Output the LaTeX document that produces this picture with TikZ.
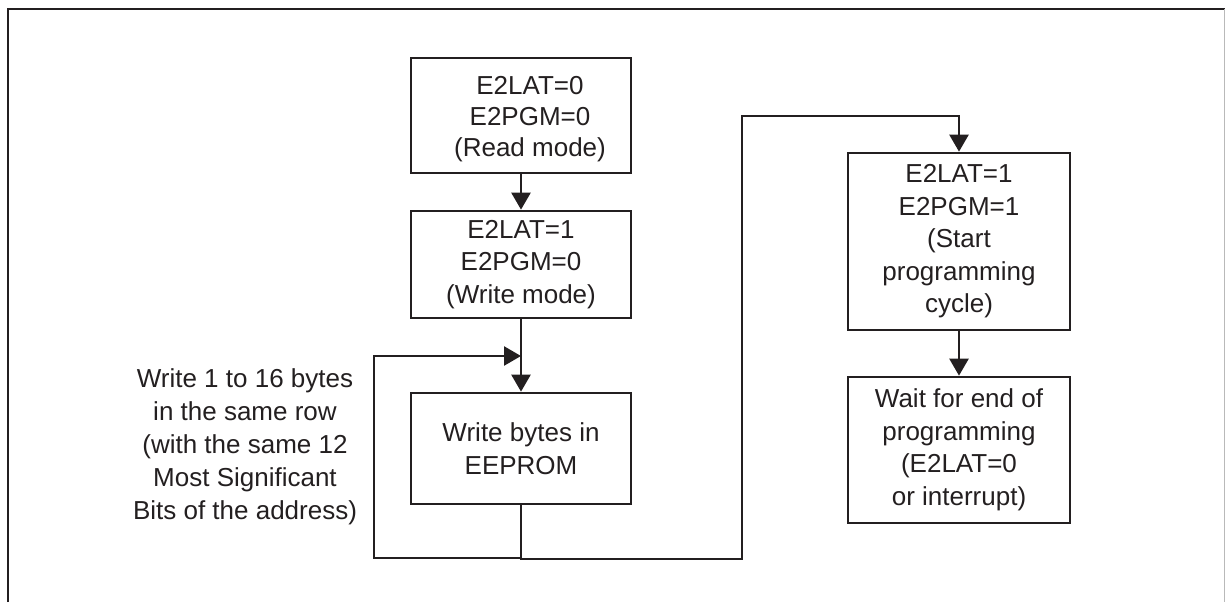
\documentclass[tikz,border=0pt]{standalone}
\usepackage{fontspec}
\setmainfont{Liberation Sans}
\usetikzlibrary{arrows.meta}
\definecolor{ink}{HTML}{231F20}
\begin{document}
\begin{tikzpicture}[x=1pt,y=-1pt,
  flowbox/.style={draw=ink, line width=2.7pt, minimum width=220pt, inner sep=0pt,
    align=center, text=ink, font=\fontsize{26pt}{32.5pt}\selectfont},
  boxtext/.style={align=center, text=ink, inner sep=0pt, font=\fontsize{26pt}{31pt}\selectfont},
  conn/.style={draw=ink, line width=2.5pt},
  arr/.style={conn, -{Triangle[length=17pt,width=19pt]}},
  note/.style={align=center, text=ink, font=\fontsize{26pt}{33pt}\selectfont}]
\useasboundingbox (0,0) rectangle (1225,602);
% frame
\draw[ink, line width=2.7pt] (8,602) -- (8,9) -- (1225,9);
\draw[gray!55, line width=1pt] (1224,9) -- (1224,602);
% boxes
\node[flowbox, minimum height=115pt] (b1) at (521,115.5) {};
\node[boxtext] (b1t) at (530,119) {E2LAT=0\\E2PGM=0\\(Read mode)};
\node[flowbox, minimum height=107pt] (b2) at (521,264.5) {E2LAT=1\\E2PGM=0\\(Write mode)};
\node[flowbox, minimum height=111pt] (b3) at (521,448.5) {Write bytes in\\EEPROM};
\node[flowbox, minimum width=222pt, minimum height=177pt] (b4) at (959,241.5) {E2LAT=1\\E2PGM=1\\(Start\\programming\\cycle)};
\node[flowbox, minimum width=222pt, minimum height=146pt] (b5) at (959,450) {Wait for end of\\programming\\(E2LAT=0\\or interrupt)};
\node[note] (t) at (245,447) {Write 1 to 16 bytes\\in the same row\\(with the same 12\\Most Significant\\Bits of the address)};
% coordinates
\coordinate (lb) at (374,558);
\coordinate (m) at (521,356);
\coordinate (rb) at (742,559);
\coordinate (rt) at (742,116);
% connectors
\draw[arr] (b1) -- (b2);
\draw[arr] (b2) -- (b3);
\draw[arr] (b3.south) |- (lb) |- (m);
\draw[arr] (b3.south) |- (rb) |- (rt) -| (b4.north);
\draw[arr] (b4) -- (b5);
\end{tikzpicture}
\end{document}
